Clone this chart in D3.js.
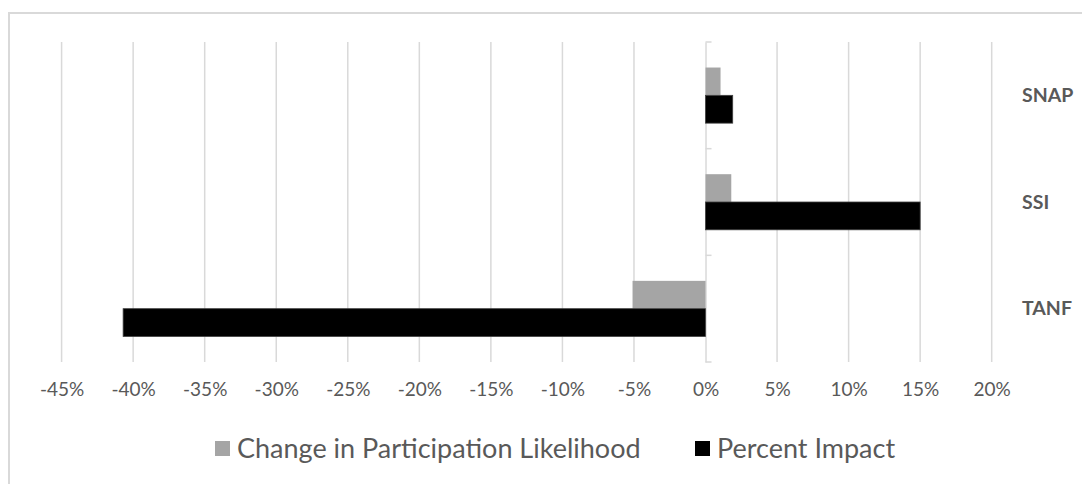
<!DOCTYPE html>
<html>
<head>
<meta charset="utf-8">
<script src="https://cdn.jsdelivr.net/npm/d3@7"></script>
<style>
  html, body { margin: 0; padding: 0; background: #fff; }
  svg { display: block; }
  text { font-family: Lato, "Open Sans", sans-serif; }
</style>
</head>
<body>
<svg id="chart" width="1082" height="484"></svg>
<script>
// Programs, listed top to bottom
const categories = ["SNAP", "SSI", "TANF"];
// Series values (fractions)
const participationChange = [0.0105, 0.018, -0.051];
const percentImpact = [0.019, 0.15, -0.407];
const seriesNames = ["Change in Participation Likelihood", "Percent Impact"];
const seriesColors = ["#a5a5a5", "#000000"];
// x-axis ticks and their labels
const tickValues = [-0.45, -0.40, -0.35, -0.30, -0.25, -0.20, -0.15, -0.10, -0.05, 0, 0.05, 0.10, 0.15, 0.20];
const tickLabels = ["-45%", "-40%", "-35%", "-30%", "-25%", "-20%", "-15%", "-10%", "-5%", "0%", "5%", "10%", "15%", "20%"];

const svg = d3.select("#chart");
const W = 1082, H = 484;
const grid = "#d9d9d9", textCol = "#595959";

// chart frame
svg.append("rect")
  .attr("x", 9).attr("y", 13)
  .attr("width", W + 10).attr("height", H + 10)
  .attr("fill", "#fff").attr("stroke", grid).attr("stroke-width", 2);

const x = d3.scaleLinear().domain([-0.45, 0.20]).range([61.6, 991.7]);
const y = d3.scaleBand().domain(categories).range([42, 362]).padding(0);
const ySeries = d3.scaleBand().domain([0, 1]).range([0, y.bandwidth()])
  .paddingInner(0).paddingOuter(0.918);

// vertical gridlines
svg.append("g")
  .selectAll("line")
  .data(tickValues.filter(v => v !== 0))
  .join("line")
  .attr("x1", d => x(d)).attr("x2", d => x(d))
  .attr("y1", 42).attr("y2", 362)
  .attr("stroke", grid).attr("stroke-width", 1.5);

// category axis at zero with small ticks
const yAxis = d3.axisRight(y).tickSize(0).tickFormat("");
const yAxisG = svg.append("g").attr("transform", `translate(${x(0)},0)`).call(yAxis);
yAxisG.select(".domain").attr("stroke", grid).attr("stroke-width", 1.5);
yAxisG.selectAll(".boundary")
  .data([42, ...categories.map(c => y(c) + y.bandwidth())])
  .join("line")
  .attr("class", "boundary")
  .attr("x1", 0).attr("x2", 6)
  .attr("y1", d => d).attr("y2", d => d)
  .attr("stroke", grid).attr("stroke-width", 1.5);

// bars
const rows = categories.map((c, i) => ({ c, vals: [participationChange[i], percentImpact[i]] }));
const groups = svg.append("g").selectAll("g")
  .data(rows).join("g")
  .attr("transform", d => `translate(0,${y(d.c)})`);
groups.selectAll("rect")
  .data(d => d.vals.map((v, k) => ({ v, k })))
  .join("rect")
  .attr("x", d => x(Math.min(0, d.v)))
  .attr("width", d => Math.abs(x(d.v) - x(0)))
  .attr("y", d => ySeries(d.k))
  .attr("height", ySeries.bandwidth())
  .attr("fill", d => seriesColors[d.k])
  .attr("stroke", d => d.k === 1 ? "#404040" : "none")
  .attr("stroke-width", 0.8);

// x axis labels
const xAxis = d3.axisBottom(x).tickValues(tickValues).tickSize(0)
  .tickFormat((d, i) => tickLabels[i]);
const xAxisG = svg.append("g").attr("transform", "translate(0,380)").call(xAxis);
xAxisG.select(".domain").remove();
xAxisG.selectAll("text")
  .attr("fill", textCol).attr("font-size", 19).attr("dy", "0.68em")
  .style("font-family", "Lato, 'Open Sans', sans-serif");

// category labels on the right
svg.append("g").selectAll("text")
  .data(categories).join("text")
  .attr("x", 1022)
  .attr("y", d => y(d) + y.bandwidth() / 2)
  .attr("dy", "0.35em")
  .attr("fill", textCol).attr("font-size", 19.5).attr("font-weight", "bold")
  .text(d => d);

// legend
const legendItems = [
  { name: seriesNames[0], color: seriesColors[0], x: 215 },
  { name: seriesNames[1], color: seriesColors[1], x: 695 }
];
const lg = svg.append("g").selectAll("g").data(legendItems).join("g")
  .attr("transform", d => `translate(${d.x},0)`);
lg.append("rect").attr("x", 0).attr("y", 441).attr("width", 15).attr("height", 15)
  .attr("fill", d => d.color);
lg.append("text").attr("x", 22).attr("y", 449).attr("dy", "0.35em")
  .attr("fill", textCol).attr("font-size", 27)
  .text(d => d.name);
</script>
</body>
</html>
